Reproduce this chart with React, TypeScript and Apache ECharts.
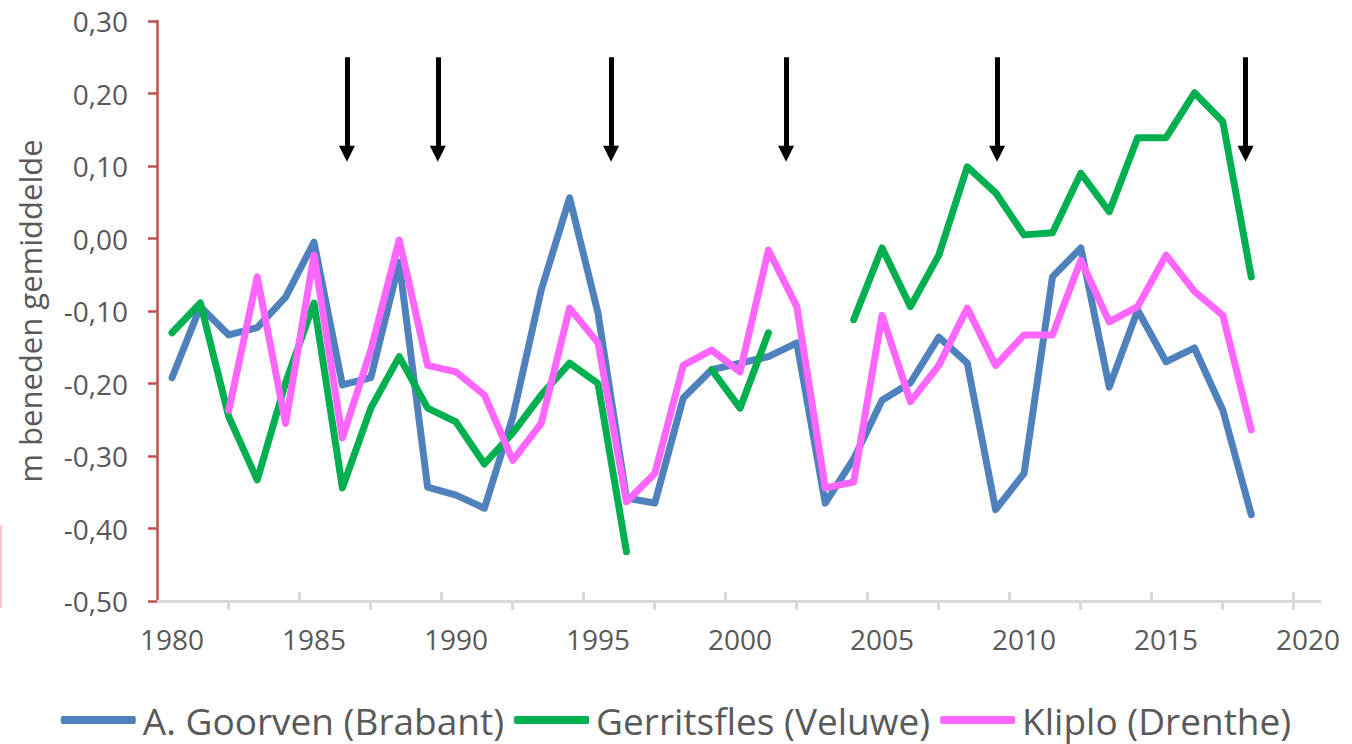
import React, { useEffect, useRef } from "react";
import * as echarts from "echarts";

const years = [
  1980, 1981, 1982, 1983, 1984, 1985, 1986, 1987, 1988, 1989,
  1990, 1991, 1992, 1993, 1994, 1995, 1996, 1997, 1998, 1999,
  2000, 2001, 2002, 2003, 2004, 2005, 2006, 2007, 2008, 2009,
  2010, 2011, 2012, 2013, 2014, 2015, 2016, 2017, 2018,
];

const goorven: (number | null)[] = [
  -0.192, -0.094, -0.133, -0.123, -0.081, -0.005, -0.202, -0.192, -0.033, -0.343,
  -0.354, -0.372, -0.246, -0.071, 0.056, -0.103, -0.358, -0.365, -0.220, -0.181,
  -0.172, -0.163, -0.144, -0.365, -0.304, -0.223, -0.199, -0.136, -0.172, -0.374,
  -0.324, -0.053, -0.013, -0.205, -0.099, -0.170, -0.151, -0.237, -0.381,
];

const gerritsfles: (number | null)[] = [
  -0.130, -0.089, -0.246, -0.333, -0.199, -0.089, -0.344, -0.234, -0.163, -0.234,
  -0.253, -0.311, -0.268, -0.216, -0.172, -0.200, -0.432, null, null, -0.181,
  -0.234, -0.130, null, null, -0.112, -0.013, -0.094, -0.023, 0.099, 0.063,
  0.005, 0.008, 0.090, 0.037, 0.139, 0.139, 0.201, 0.161, -0.053,
];

const kliplo: (number | null)[] = [
  null, null, -0.237, -0.053, -0.255, -0.023, -0.275, -0.154, -0.002, -0.175,
  -0.184, -0.216, -0.306, -0.255, -0.096, -0.144, -0.363, -0.324, -0.175, -0.154,
  -0.184, -0.016, -0.094, -0.344, -0.336, -0.106, -0.225, -0.175, -0.096, -0.175,
  -0.133, -0.133, -0.030, -0.115, -0.094, -0.023, -0.073, -0.106, -0.264,
];

const seriesNames = ["A. Goorven (Brabant)", "Gerritsfles (Veluwe)", "Kliplo (Drenthe)"];
const seriesColors = ["#4f81bd", "#00b050", "#ff66ff"];

const xLabelValues = [1980, 1985, 1990, 1995, 2000, 2005, 2010, 2015, 2020];
const tickUpValues = [1984.47, 1989.47, 1994.47, 1999.47, 2004.47, 2009.47, 2014.47, 2019.47];
const tickDownValues = [1981.97, 1986.97, 1991.97, 1996.97, 2001.97, 2006.97, 2011.97, 2016.97, 2019.47];

const arrowYears = [1986.16, 1989.36, 1995.46, 2001.62, 2009.05, 2017.8];
const arrowTop = 0.25;
const arrowEnd = 0.117;

const FONT = "'Open Sans', sans-serif";

export default function App() {
  const ref = useRef<HTMLDivElement>(null);

  useEffect(() => {
    if (!ref.current) return;
    const chart = echarts.init(ref.current, undefined, { renderer: "svg" });
    const datas = [goorven, gerritsfles, kliplo];

    const series: any[] = datas.map((d, i) => ({
      name: seriesNames[i],
      type: "line",
      xAxisIndex: 0,
      data: years.map((y, j) => [y, d[j]]),
      symbol: "none",
      connectNulls: false,
      color: seriesColors[i],
      lineStyle: { color: seriesColors[i], width: 7, cap: "round", join: "round" },
      z: i === 2 ? 4 : 3,
    }));

    series.push({
      name: "arrows",
      type: "line",
      data: [],
      silent: true,
      markLine: {
        silent: true,
        animation: false,
        symbol: ["none", "triangle"],
        symbolSize: [16, 16],
        label: { show: false },
        lineStyle: { color: "#000", width: 5, type: "solid" },
        itemStyle: { color: "#000" },
        data: arrowYears.map((x) => [
          { coord: [x, arrowTop] },
          { coord: [x, arrowEnd] },
        ]),
      },
    });

    chart.setOption({
      animation: false,
      grid: { left: 157, right: 32, top: 21, bottom: 143, containLabel: false },
      legend: {
        data: seriesNames,
        bottom: 4,
        left: "center",
        icon: "roundRect",
        itemWidth: 75,
        itemHeight: 8,
        itemGap: 10,
        padding: 0,
        textStyle: { fontFamily: FONT, fontSize: 37, lineHeight: 40, color: "#595959", padding: [0, 0, 0, 2] },
      },
      xAxis: [
        {
          type: "value",
          min: 1979.472,
          max: 2020.42,
          axisLine: { show: true, onZero: false, lineStyle: { color: "#d9d9d9", width: 3 } },
          axisTick: { show: true, inside: true, length: 9, customValues: tickUpValues, lineStyle: { color: "#d9d9d9", width: 3 } },
          axisLabel: {
            show: true,
            customValues: xLabelValues,
            margin: 24,
            fontFamily: FONT,
            fontSize: 28,
            color: "#595959",
            formatter: (v: number) => String(Math.round(v)),
          },
          splitLine: { show: false },
        },
        {
          type: "value",
          position: "bottom",
          min: 1979.472,
          max: 2020.42,
          axisLine: { show: false, onZero: false },
          axisTick: { show: true, inside: false, length: 9, customValues: tickDownValues, lineStyle: { color: "#d9d9d9", width: 3 } },
          axisLabel: { show: false },
          splitLine: { show: false },
        },
      ],
      yAxis: {
        type: "value",
        min: -0.5,
        max: 0.3,
        interval: 0.1,
        name: "m beneden gemiddelde",
        nameLocation: "middle",
        nameGap: 112,
        nameTextStyle: { fontFamily: FONT, fontSize: 31, color: "#595959" },
        axisLine: { show: true, onZero: false, lineStyle: { color: "#c0504d", width: 2.5 } },
        axisTick: { show: true, length: 9, lineStyle: { color: "#c0504d", width: 2.5 } },
        axisLabel: {
          margin: 29,
          fontFamily: FONT,
          fontSize: 28,
          color: "#595959",
          formatter: (v: number) => {
            const val = Math.abs(v) < 1e-9 ? 0 : v;
            return val.toFixed(2).replace(".", ",");
          },
        },
        splitLine: { show: false },
      },
      graphic: [
        {
          type: "line",
          shape: { x1: 1, y1: 525, x2: 1, y2: 608 },
          style: { stroke: "#ffc8c8", lineWidth: 2 },
          silent: true,
        },
      ],
      series,
    });

    return () => chart.dispose();
  }, []);

  return (
    <div
      ref={ref}
      style={{ position: "fixed", left: 0, top: 0, width: 1352, height: 744, background: "#fff" }}
    />
  );
}
